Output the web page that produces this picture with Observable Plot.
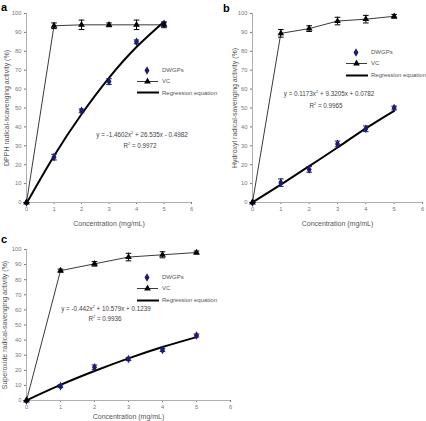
<!DOCTYPE html>
<html><head><meta charset="utf-8">
<script src="https://cdn.jsdelivr.net/npm/d3@7"></script>
<script src="https://cdn.jsdelivr.net/npm/@observablehq/plot@0.6"></script>
<style>
body{margin:0;background:#fff;font-family:"Liberation Sans",Arial,sans-serif;}
#root{position:relative;width:426px;height:421px;overflow:hidden;background:#fff;}
.panel{position:absolute;}
.panel svg{overflow:visible;}
g[aria-label="x-axis label"] text, g[aria-label="y-axis label"] text{font-size:7px;fill:#555;}
.lab{position:absolute;font-weight:bold;font-size:11px;line-height:1;color:#000;}
.legrow{position:absolute;height:11px;display:flex;align-items:center;font-size:6px;color:#555;white-space:nowrap;}
.legrow span{margin-left:3px;}
.eq{position:absolute;font-size:6.3px;line-height:1;color:#444;white-space:nowrap;transform:translate(-50%,-50%);}
</style></head>
<body><div id="root"></div>
<script>
// ---- data ----
const conc = [0, 1, 2, 3, 4, 5];
const xTicks = [0, 1, 2, 3, 4, 5, 6];
const yTicks = [0, 10, 20, 30, 40, 50, 60, 70, 80, 90, 100];

// (a) DPPH
const dpphDWGP    = [0, 24, 48.5, 64, 85, 94.5];
const dpphDWGPErr = [0, 1.5, 1, 1.5, 1, 1];
const dpphVC      = [0, 93.5, 94, 94, 94, 94];
const dpphVCErr   = [0, 1.5, 2.5, 1, 2.5, 1.5];
const dpphReg     = [-0.5, 24.6, 46.7, 66, 82.3, 95.7];

// (b) Hydroxyl
const hydDWGP    = [0, 10.5, 17.5, 31, 39, 50];
const hydDWGPErr = [0, 2, 1.5, 1.5, 1.5, 1];
const hydVC      = [0, 89.5, 92, 96, 97, 98.5];
const hydVCErr   = [0, 2, 1.5, 2, 2, 1];
const hydReg     = [0.1, 9.5, 19.2, 29.1, 39.2, 48.5];

// (c) Superoxide
const supDWGP    = [0, 9.5, 22, 27.5, 33.5, 43];
const supDWGPErr = [0, 1, 1.5, 1, 1, 1];
const supVC      = [0, 86, 90.5, 95, 96.5, 98];
const supVCErr   = [0, 1, 1.5, 2.5, 2, 1];
const supReg     = [0.1, 10.3, 19.5, 27.9, 35.4, 42];

const xLabel = "Concentration (mg/mL)";
const legendLabels = ["DWGPs", "VC", "Regression equation"];

const navy = "#1c1c72";
const hline = {draw(ctx, size){ const r = Math.sqrt(size / Math.PI); ctx.moveTo(-r, 0); ctx.lineTo(r, 0); }};

function rows(ys, es){ return conc.map((x, i) => ({x, y: ys[i], e: es ? es[i] : 0})); }

function errMarks(data, color){
  return [
    Plot.ruleX(data, {x: "x", y1: d => d.y - d.e, y2: d => d.y + d.e, stroke: color, strokeWidth: 1}),
    Plot.dot(data, {x: "x", y: d => d.y + d.e, symbol: hline, r: 2.8, stroke: color, fill: "none", strokeWidth: 1}),
    Plot.dot(data, {x: "x", y: d => d.y - d.e, symbol: hline, r: 2.8, stroke: color, fill: "none", strokeWidth: 1})
  ];
}

function panel(cfg){
  const dw = rows(cfg.dwgp, cfg.dwgpErr);
  const vc = rows(cfg.vc, cfg.vcErr);
  const rg = rows(cfg.reg);
  return Plot.plot({
    width: cfg.w, height: cfg.h,
    marginLeft: cfg.mL, marginRight: cfg.mR, marginTop: cfg.mT, marginBottom: cfg.mB,
    style: {fontSize: "5.8px", fontFamily: "'Liberation Sans', Arial, sans-serif", color: "#777", background: "transparent"},
    x: {domain: [0, 6], ticks: xTicks, tickFormat: d => String(d), tickSize: 2, tickPadding: 2, label: xLabel, labelAnchor: "center", labelArrow: "none", labelOffset: cfg.xlo},
    y: {domain: [0, 100], ticks: yTicks, tickFormat: d => String(d), tickSize: 2, tickPadding: 3, label: cfg.ylabel, labelAnchor: "center", labelArrow: "none", labelOffset: cfg.ylo},
    marks: [
      Plot.ruleX([0], {stroke: "#b0b0b0"}),
      Plot.ruleY([0], {stroke: "#b0b0b0"}),
      Plot.line(vc, {x: "x", y: "y", stroke: "#3a3a3a", strokeWidth: 1}),
      ...errMarks(vc, "#000"),
      Plot.line(rg, {x: "x", y: "y", curve: "natural", stroke: "#000", strokeWidth: 2}),
      ...errMarks(dw, navy),
      Plot.dot(dw, {x: "x", y: "y", symbol: "diamond", r: 2.6, fill: navy, stroke: "none"}),
      Plot.dot(vc, {x: "x", y: "y", symbol: "triangle", r: 2.5, fill: "#000", stroke: "none"})
    ]
  });
}

const root = document.getElementById("root");

function place(el, left, top){ const d = document.createElement("div"); d.className = "panel"; d.style.left = left + "px"; d.style.top = top + "px"; d.appendChild(el); root.appendChild(d); }

function label(txt, left, top){ const d = document.createElement("div"); d.className = "lab"; d.textContent = txt; d.style.left = left + "px"; d.style.top = top + "px"; root.appendChild(d); }

function legend(left, ys){
  const ns = "http://www.w3.org/2000/svg";
  legendLabels.forEach((t, i) => {
    const row = document.createElement("div");
    row.className = "legrow";
    row.style.left = left + "px"; row.style.top = (ys[i] - 5.5) + "px";
    const s = document.createElementNS(ns, "svg");
    s.setAttribute("width", 22); s.setAttribute("height", 11);
    let html = "";
    if (i === 0) html = `<path d="${d3.symbol(d3.symbolDiamond, Math.PI*2.6*2.6)()}" transform="translate(10,5.5)" fill="${navy}"/>`;
    if (i === 1) html = `<line x1="0" x2="21" y1="5.5" y2="5.5" stroke="#3a3a3a"/><path d="${d3.symbol(d3.symbolTriangle, Math.PI*2.5*2.5)()}" transform="translate(10.5,5.5)" fill="#000"/>`;
    if (i === 2) html = `<line x1="0" x2="22" y1="5.5" y2="5.5" stroke="#000" stroke-width="2"/>`;
    s.innerHTML = html;
    row.appendChild(s);
    const sp = document.createElement("span"); sp.textContent = t; row.appendChild(sp);
    root.appendChild(row);
  });
}

function eq(lines, pos){
  lines.forEach((t, i) => {
    const d = document.createElement("div"); d.className = "eq"; d.innerHTML = t;
    d.style.left = pos[i][0] + "px"; d.style.top = pos[i][1] + "px"; root.appendChild(d);
  });
}

place(panel({w: 213, h: 230, mL: 26, mR: 22, mT: 13, mB: 28, xlo: 23, ylo: 22,
  ylabel: "DPPH radical-scavenging activity (%)",
  dwgp: dpphDWGP, dwgpErr: dpphDWGPErr, vc: dpphVC, vcErr: dpphVCErr, reg: dpphReg}), 0, 0);
place(panel({w: 213, h: 230, mL: 39, mR: 4, mT: 13, mB: 28, xlo: 23, ylo: 20,
  ylabel: "Hydroxyl radical-savenging activity (%)",
  dwgp: hydDWGP, dwgpErr: hydDWGPErr, vc: hydVC, vcErr: hydVCErr, reg: hydReg}), 213, 0);
place(panel({w: 250, h: 191, mL: 26, mR: 20, mT: 19, mB: 21, xlo: 18, ylo: 24,
  ylabel: "Superoxide radical-savenging activity (%)",
  dwgp: supDWGP, dwgpErr: supDWGPErr, vc: supVC, vcErr: supVCErr, reg: supReg}), 0, 230);

label("a", 1, 2);
label("b", 223, 2.5);
label("c", 1, 234);

legend(137, [70, 81, 92.5]);
legend(346, [52, 63, 75]);
legend(137, [277, 288, 300]);

eq(["y = -1.4602x<sup style='font-size:4px'>2</sup> + 26.535x - 0.4982", "R<sup style='font-size:4px'>2</sup> = 0.9972"], [[142, 135], [140, 146]]);
eq(["y = 0.1173x<sup style='font-size:4px'>2</sup> + 9.3205x + 0.0782", "R<sup style='font-size:4px'>2</sup> = 0.9965"], [[329, 94], [326, 106]]);
eq(["y = -0.442x<sup style='font-size:4px'>2</sup> + 10.579x + 0.1239", "R<sup style='font-size:4px'>2</sup> = 0.9936"], [[106, 309], [105, 319]]);
</script>
</body></html>
